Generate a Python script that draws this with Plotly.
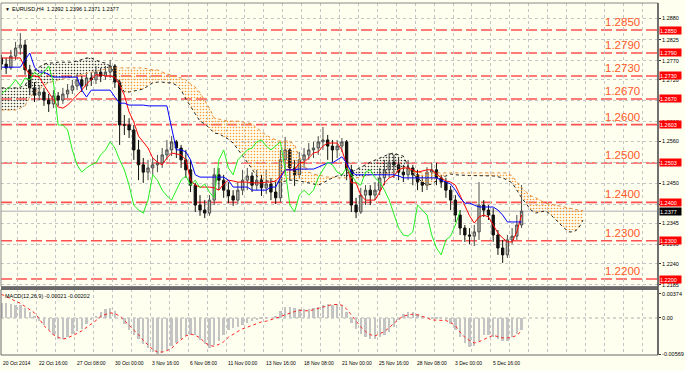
import numpy as np
import plotly.graph_objects as go

# ---------------- data (prices stored as pips above 1.2000) ----------------
BASE = 1.2
open_p = [777, 761, 751, 782, 803, 811, 746, 699, 680, 688,
          667, 657, 678, 667, 683, 693, 704, 720, 704, 725,
          720, 740, 730, 740, 756, 714, 602, 602, 589, 537,
          498, 479, 490, 498, 503, 524, 537, 558, 542, 511,
          485, 445, 393, 380, 372, 406, 472, 458, 432, 417,
          406, 432, 458, 469, 445, 458, 438, 448, 427, 412,
          511, 537, 490, 472, 511, 524, 537, 542, 558, 563,
          547, 537, 547, 558, 485, 393, 375, 419, 432, 419,
          432, 464, 485, 505, 498, 479, 472, 490, 472, 453,
          445, 479, 485, 464, 453, 432, 406, 367, 333, 315,
          312, 323, 393, 380, 367, 315, 281, 263, 302, 312, 341]
high_p = [785, 777, 798, 819, 842, 824, 759, 714, 706, 699,
          683, 693, 688, 699, 709, 720, 735, 730, 740, 740,
          756, 751, 756, 772, 761, 722, 628, 620, 602, 563,
          516, 511, 516, 524, 542, 563, 573, 563, 550, 537,
          511, 451, 419, 406, 419, 490, 490, 472, 453, 432,
          453, 485, 490, 479, 485, 472, 485, 464, 458, 537,
          571, 542, 511, 532, 542, 555, 558, 573, 597, 576,
          563, 563, 568, 563, 498, 412, 438, 445, 445, 453,
          490, 511, 529, 524, 516, 498, 511, 498, 485, 472,
          492, 503, 503, 472, 464, 443, 419, 380, 341, 333,
          341, 453, 406, 393, 385, 328, 302, 315, 333, 367, 445]
low_p = [746, 735, 746, 772, 785, 733, 680, 662, 667, 652,
         636, 646, 652, 657, 673, 683, 693, 688, 693, 704,
         709, 714, 720, 725, 699, 550, 576, 568, 511, 458,
         451, 458, 472, 479, 490, 511, 521, 516, 490, 464,
         427, 375, 365, 359, 365, 393, 432, 412, 398, 391,
         396, 419, 432, 427, 432, 417, 422, 406, 396, 401,
         472, 458, 443, 464, 490, 511, 516, 524, 537, 511,
         505, 516, 532, 458, 375, 359, 370, 393, 393, 406,
         419, 445, 464, 464, 458, 453, 458, 445, 432, 427,
         432, 458, 445, 438, 412, 380, 349, 315, 297, 291,
         286, 302, 362, 354, 297, 263, 242, 255, 291, 302, 333]
close_p = [761, 751, 782, 803, 811, 746, 699, 680, 688, 667,
           657, 678, 667, 683, 693, 704, 720, 704, 725, 720,
           740, 730, 740, 756, 714, 602, 602, 589, 537, 498,
           479, 490, 498, 503, 524, 537, 558, 542, 511, 485,
           445, 393, 380, 372, 406, 472, 458, 432, 417, 406,
           432, 458, 469, 445, 458, 438, 448, 427, 412, 511,
           537, 490, 472, 511, 524, 537, 542, 558, 563, 547,
           537, 547, 558, 485, 393, 375, 419, 432, 419, 432,
           464, 485, 505, 498, 479, 472, 490, 472, 453, 445,
           479, 485, 464, 453, 432, 406, 367, 333, 315, 312,
           323, 393, 380, 367, 315, 281, 263, 302, 312, 341, 377]
tenkan_p = [777, 777, 777, 777, 777, 751, 733, 730, 727, 706,
            686, 667, 649, 646, 654, 667, 680, 693, 709, 720,
            733, 733, 730, 730, 727, 706, 680, 636, 610, 573,
            558, 542, 516, 505, 498, 516, 529, 526, 524, 511,
            458, 445, 440, 440, 440, 438, 432, 448, 458, 456,
            453, 453, 453, 451, 451, 451, 453, 453, 456, 469,
            485, 485, 485, 503, 505, 516, 529, 532, 547, 555,
            555, 555, 537, 498, 451, 451, 419, 406, 406, 406,
            427, 451, 464, 469, 485, 490, 490, 485, 479, 482,
            485, 485, 474, 464, 456, 453, 445, 419, 393, 365,
            346, 362, 367, 362, 341, 320, 307, 297, 297, 323, 367]
kijun_p = [753, 753, 753, 753, 753, 772, 790, 753, 740, 740,
           733, 727, 727, 727, 727, 727, 727, 693, 675, 693,
           693, 693, 693, 693, 675, 659, 659, 654, 654, 654,
           654, 652, 652, 652, 652, 652, 594, 537, 537, 532,
           511, 472, 466, 466, 466, 466, 466, 466, 458, 440,
           440, 440, 440, 432, 432, 432, 432, 440, 440, 464,
           485, 485, 485, 487, 487, 487, 487, 492, 498, 503,
           503, 511, 519, 503, 479, 472, 472, 472, 472, 472,
           472, 472, 472, 472, 469, 464, 464, 464, 464, 464,
           464, 464, 464, 458, 453, 448, 432, 412, 398, 398,
           393, 388, 388, 388, 388, 380, 367, 349, 349, 349, 349]
span_a_p = [699, 699, 699, 699, 701, 704, 733, 746, 753, 761,
            764, 764, 766, 766, 766, 766, 769, 772, 777, 777,
            772, 766, 764, 756, 735, 712, 688, 688, 691, 693,
            696, 704, 712, 714, 714, 712, 712, 706, 693, 670,
            649, 631, 612, 605, 594, 581, 579, 573, 565, 555,
            539, 524, 505, 487, 469, 458, 456, 456, 453, 453,
            456, 458, 458, 456, 453, 451, 448, 445, 451, 458,
            464, 469, 474, 477, 479, 485, 490, 498, 505, 511,
            516, 521, 526, 529, 524, 521, 495, 474, 464, 453,
            445, 448, 456, 464, 469, 474, 472, 471, 470, 470,
            470, 470, 470, 470, 469, 467, 464, 458, 451, 432,
            412, 396, 380, 372, 375, 378, 370, 357, 346, 333,
            323, 323, 331, 354]
span_b_p = [641, 641, 641, 641, 646, 652, 675, 686, 696, 706,
            712, 717, 720, 722, 725, 727, 730, 735, 738, 740,
            743, 746, 748, 751, 751, 751, 751, 751, 751, 751,
            751, 748, 746, 746, 740, 735, 733, 727, 725, 720,
            709, 701, 686, 667, 646, 620, 618, 615, 612, 612,
            612, 610, 607, 605, 594, 584, 576, 568, 563, 560,
            560, 560, 550, 519, 498, 479, 474, 472, 469, 466,
            466, 464, 464, 464, 464, 464, 466, 469, 472, 472,
            474, 474, 477, 477, 485, 490, 485, 482, 479, 477,
            477, 477, 477, 477, 477, 477, 477, 477, 477, 477,
            477, 477, 477, 477, 477, 477, 477, 477, 469, 453,
            438, 427, 417, 412, 406, 398, 396, 393, 391, 388,
            385, 383, 380, 378]
macd_hist = [0.0022, 0.0022, 0.0021, 0.0020, 0.0019, 0.0015, 0.0008, 0.0002, -0.0005, -0.0012,
             -0.0020, -0.0027, -0.0033, -0.0033, -0.0030, -0.0025, -0.0021, -0.0018, -0.0010, -0.0004,
             0.0002, 0.0009, 0.0013, 0.0015, 0.0010, 0.0000, -0.0010, -0.0019, -0.0027, -0.0034,
             -0.0041, -0.0047, -0.0053, -0.0057, -0.0056, -0.0050, -0.0045, -0.0040, -0.0033, -0.0029,
             -0.0027, -0.0028, -0.0035, -0.0042, -0.0047, -0.0043, -0.0036, -0.0028, -0.0020, -0.0017,
             -0.0015, -0.0012, -0.0009, -0.0006, -0.0004, -0.0002, -0.0001, 0.0000, 0.0002, 0.0010,
             0.0017, 0.0017, 0.0015, 0.0014, 0.0013, 0.0014, 0.0015, 0.0017, 0.0020, 0.0021,
             0.0020, 0.0021, 0.0020, 0.0008, -0.0008, -0.0018, -0.0026, -0.0031, -0.0034, -0.0033,
             -0.0030, -0.0027, -0.0022, -0.0015, -0.0004, 0.0006, 0.0008, 0.0008, 0.0006, 0.0003,
             0.0000, -0.0002, -0.0003, -0.0003, -0.0004, -0.0010, -0.0020, -0.0030, -0.0040, -0.0046,
             -0.0045, -0.0036, -0.0028, -0.0027, -0.0031, -0.0034, -0.0037, -0.0036, -0.0030, -0.0025, -0.0020]
macd_signal = [0.0037, 0.0034, 0.0030, 0.0026, 0.0023, 0.0018, 0.0013, 0.0008, -0.0001, -0.0012,
               -0.0019, -0.0026, -0.0030, -0.0033, -0.0031, -0.0028, -0.0024, -0.0020, -0.0015, -0.0009,
               -0.0004, 0.0003, 0.0006, 0.0008, 0.0007, 0.0003, -0.0004, -0.0011, -0.0018, -0.0026,
               -0.0035, -0.0042, -0.0049, -0.0053, -0.0053, -0.0051, -0.0047, -0.0040, -0.0034, -0.0028,
               -0.0025, -0.0027, -0.0031, -0.0038, -0.0043, -0.0044, -0.0041, -0.0037, -0.0030, -0.0025,
               -0.0021, -0.0017, -0.0014, -0.0011, -0.0008, -0.0006, -0.0005, -0.0003, -0.0001, 0.0002,
               0.0005, 0.0008, 0.0010, 0.0012, 0.0012, 0.0011, 0.0013, 0.0015, 0.0018, 0.0020,
               0.0021, 0.0021, 0.0020, 0.0014, 0.0005, -0.0004, -0.0014, -0.0021, -0.0026, -0.0028,
               -0.0025, -0.0021, -0.0015, -0.0008, -0.0002, 0.0003, 0.0005, 0.0006, 0.0005, 0.0003,
               0.0000, -0.0003, -0.0003, -0.0003, -0.0004, -0.0007, -0.0012, -0.0022, -0.0030, -0.0035,
               -0.0039, -0.0037, -0.0033, -0.0030, -0.0027, -0.0029, -0.0031, -0.0031, -0.0030, -0.0027, -0.0020]

levels = [1.2850, 1.2790, 1.2730, 1.2670, 1.2603, 1.2503, 1.2400, 1.2300, 1.2200]
level_text = ["1.2850", "1.2790", "1.2730", "1.2670", "1.2600", "1.2500", "1.2400", "1.2300", "1.2200"]
level_box = ["1.2850", "1.2790", "1.2730", "1.2670", "1.2603", "1.2503", "1.2400", "1.2300", "1.2200"]
last_price = 1.2377
price_ticks = [1.2880, 1.2825, 1.2770, 1.2720, 1.2665, 1.2610, 1.2560, 1.2505,
               1.2450, 1.2395, 1.2345, 1.2290, 1.2240, 1.2185]
# labels that sit fully under a level box are not visible in the reference
price_tick_text = ["1.2880", "1.2825", "1.2770", "1.2720", "", "1.2610", "1.2560", "",
                   "1.2450", "", "1.2345", "1.2290", "1.2240", "1.2185"]
macd_ticks = [0.00374, 0.0, -0.00569]
macd_tick_text = ["0.00374", "0.00", "-0.00569"]
date_pos = [0, 15, 31, 47, 63, 79, 95, 111, 127, 143, 159, 175, 191, 207]
date_labels = ["20 Oct 2014", "22 Oct 16:00", "27 Oct 08:00", "30 Oct 00:00", "3 Nov 16:00",
               "6 Nov 08:00", "11 Nov 00:00", "13 Nov 16:00", "18 Nov 08:00", "21 Nov 00:00",
               "25 Nov 16:00", "28 Nov 08:00", "3 Dec 00:00", "5 Dec 16:00"]
title_text = "EURUSD,H4  1.2392 1.2396 1.2371 1.2377"
macd_title = "MACD(12,26,9) -0.00021 -0.00202"

for arr in (open_p, high_p, low_p, close_p, tenkan_p, kijun_p, macd_hist, macd_signal):
    assert len(arr) == 111, len(arr)
assert len(span_a_p) == len(span_b_p) == 124

# ---------------- styling constants ----------------
BAR = 2            # one candle = two H4 slots on the time axis
CHIKOU_SHIFT = 26  # H4 slots
BG = "#FFFFF0"
GRID = "#C4C4C4"
FONT = "Liberation Sans"
X_RANGE = [-0.17, 277.7]
Y_RANGE = [1.218047, 1.292048]
M_RANGE = [-0.005766, 0.004441]
MAIN_BOTTOM = 0.1946
MACD_TOP = 0.1861
LABEL_X = 262.6


def px(lst):
    return [BASE + v / 10000.0 for v in lst]


xc = [BAR * i for i in range(len(close_p))]
xs = [BAR * i for i in range(len(span_a_p))]
A = px(span_a_p)
B = px(span_b_p)

fig = go.Figure()


def cloud_segments(x, a, b):
    segs = []
    sx, sa, sb = [x[0]], [a[0]], [b[0]]
    sign = a[0] >= b[0]
    for k in range(1, len(x)):
        s = a[k] >= b[k]
        if s != sign:
            d0 = a[k - 1] - b[k - 1]
            d1 = a[k] - b[k]
            t = d0 / (d0 - d1)
            xcr = x[k - 1] + t * (x[k] - x[k - 1])
            ycr = a[k - 1] + t * (a[k] - a[k - 1])
            sx.append(xcr); sa.append(ycr); sb.append(ycr)
            segs.append((sign, sx, sa, sb))
            sx, sa, sb = [xcr], [ycr], [ycr]
            sign = s
        sx.append(x[k]); sa.append(a[k]); sb.append(b[k])
    segs.append((sign, sx, sa, sb))
    return segs


for sign, sx, sa, sb in cloud_segments(xs, A, B):
    col = "#3a3a3a" if sign else "#FF9A30"
    fig.add_trace(go.Scatter(
        x=sx + sx[::-1], y=sa + sb[::-1], mode="lines", fill="toself",
        line=dict(width=0, color="rgba(0,0,0,0)"), fillcolor="rgba(0,0,0,0)",
        fillpattern=dict(shape=".", fgcolor=col, bgcolor="rgba(0,0,0,0)",
                         size=3, solidity=0.22, fillmode="replace"),
        hoverinfo="skip", showlegend=False, xaxis="x", yaxis="y"))

# candles
fig.add_trace(go.Candlestick(
    x=xc, open=px(open_p), high=px(high_p), low=px(low_p), close=px(close_p),
    increasing=dict(line=dict(color="#4c4c4c", width=1), fillcolor="#b8b8ac"),
    decreasing=dict(line=dict(color="#111111", width=1), fillcolor="#111111"),
    whiskerwidth=0, hoverinfo="skip", showlegend=False, xaxis="x", yaxis="y"))

# cloud bounding lines
fig.add_trace(go.Scatter(x=xs, y=A, mode="lines", line=dict(color="#222222", width=1, dash="dot"),
                         hoverinfo="skip", showlegend=False))
fig.add_trace(go.Scatter(x=xs, y=B, mode="lines", line=dict(color="#E08A3C", width=1, dash="dot"),
                         hoverinfo="skip", showlegend=False))
# tenkan, kijun, chikou
fig.add_trace(go.Scatter(x=xc, y=px(tenkan_p), mode="lines", line=dict(color="#FF0000", width=1),
                         hoverinfo="skip", showlegend=False))
fig.add_trace(go.Scatter(x=xc, y=px(kijun_p), mode="lines", line=dict(color="#0000FF", width=1),
                         hoverinfo="skip", showlegend=False))
shift_idx = CHIKOU_SHIFT // BAR
fig.add_trace(go.Scatter(x=[BAR * i - CHIKOU_SHIFT for i in range(shift_idx, len(close_p))],
                         y=px(close_p)[shift_idx:], mode="lines",
                         line=dict(color="#22EE22", width=1),
                         hoverinfo="skip", showlegend=False))

# MACD panel
fig.add_trace(go.Bar(x=xc, y=macd_hist, width=1.0, marker=dict(color="#C4C4C4", line=dict(width=0)),
                     hoverinfo="skip", showlegend=False, xaxis="x2", yaxis="y2"))
fig.add_trace(go.Scatter(x=xc, y=macd_signal, mode="lines",
                         line=dict(color="#FF2020", width=1, dash="dot"),
                         hoverinfo="skip", showlegend=False, xaxis="x2", yaxis="y2"))

grid_pos = list(range(7, 278, 8))
axis_common = dict(range=X_RANGE, tickvals=grid_pos, showticklabels=False, showgrid=True,
                   gridcolor=GRID, griddash="dot", gridwidth=1, zeroline=False, ticks="",
                   showline=False, fixedrange=True)

shapes = []
for lv in levels:
    shapes.append(dict(type="line", xref="paper", x0=0, x1=1, yref="y", y0=lv, y1=lv,
                       line=dict(color="#FF5050", width=1.6, dash="11px,4px"), layer="below"))
shapes.append(dict(type="line", xref="paper", x0=0, x1=1, yref="y", y0=last_price, y1=last_price,
                   line=dict(color="#C8C8C8", width=1.5), layer="below"))
shapes.append(dict(type="line", xref="paper", x0=0, x1=1, yref="y2", y0=0, y1=0,
                   line=dict(color="#B0B0B0", width=1, dash="dot"), layer="below"))
shapes.append(dict(type="rect", xref="paper", yref="paper", x0=0, x1=1, y0=MAIN_BOTTOM, y1=1,
                   line=dict(color="#8a8a8a", width=1)))
shapes.append(dict(type="rect", xref="paper", yref="paper", x0=0, x1=1, y0=0, y1=MACD_TOP,
                   line=dict(color="#6a6a6a", width=1)))
shapes.append(dict(type="rect", xref="paper", yref="paper", x0=0, x1=1, y0=MACD_TOP, y1=MAIN_BOTTOM,
                   line=dict(width=0), fillcolor="#6a6a6a"))
shapes.append(dict(type="line", xref="paper", yref="paper", x0=1, x1=1, y0=0, y1=1,
                   line=dict(color="#555555", width=1.5)))

ann = []
for lv, t in zip(levels, level_text):
    ann.append(dict(xref="x", x=LABEL_X, yref="y", y=lv, yshift=8, text=t, showarrow=False,
                    font=dict(family=FONT, size=11.5, color="#FF5A28")))
for lv, t in zip(levels, level_box):
    ann.append(dict(xref="paper", x=1, xanchor="left", xshift=1, yref="y", y=lv, text=t,
                    showarrow=False, bgcolor="#FF0000", font=dict(family=FONT, size=5.5, color="white"),
                    width=21, height=7, borderpad=0, align="left"))
ann.append(dict(xref="paper", x=1, xanchor="left", xshift=1, yref="y", y=last_price, text="1.2377",
                showarrow=False, bgcolor="#000000", font=dict(family=FONT, size=5.5, color="white"),
                width=21, height=7, borderpad=0, align="left"))
for p, t in zip(date_pos, date_labels):
    ann.append(dict(xref="x2", x=p, xanchor="left", yref="paper", y=0, yanchor="top", yshift=-3,
                    text=t, showarrow=False, font=dict(family=FONT, size=5, color="black")))
ann.append(dict(xref="paper", x=0, xanchor="left", xshift=2, yref="paper", y=1, yanchor="top", yshift=-1,
                text="\u25BC", showarrow=False, font=dict(family=FONT, size=5, color="black")))
ann.append(dict(xref="paper", x=0, xanchor="left", xshift=9, yref="paper", y=1, yanchor="top", yshift=-1,
                text=title_text, showarrow=False, font=dict(family=FONT, size=5.5, color="black")))
ann.append(dict(xref="paper", x=0, xanchor="left", xshift=2, yref="paper", y=MACD_TOP, yanchor="top",
                yshift=-2, text=macd_title, showarrow=False, font=dict(family=FONT, size=5.5, color="black")))

fig.update_layout(
    width=685, height=371, margin=dict(l=1, r=24, t=3, b=16),
    paper_bgcolor=BG, plot_bgcolor=BG, showlegend=False, bargap=0,
    xaxis=dict(domain=[0, 1], anchor="y", rangeslider=dict(visible=False), **axis_common),
    xaxis2=dict(domain=[0, 1], anchor="y2", matches="x", **axis_common),
    yaxis=dict(domain=[MAIN_BOTTOM, 1], range=Y_RANGE, side="right", tickvals=price_ticks,
               ticktext=price_tick_text, showgrid=True, gridcolor=GRID,
               griddash="dot", zeroline=False, ticks="outside", ticklen=2, tickcolor="#333333",
               tickfont=dict(family=FONT, size=5.5, color="black"), fixedrange=True),
    yaxis2=dict(domain=[0, MACD_TOP], range=M_RANGE, side="right", tickvals=macd_ticks,
                ticktext=macd_tick_text, showgrid=False, zeroline=False, ticks="outside", ticklen=2,
                tickcolor="#333333", tickfont=dict(family=FONT, size=5.5, color="black"),
                fixedrange=True),
    shapes=shapes, annotations=ann,
)

fig.write_html("out.html", config={"displayModeBar": False},
               post_script="document.body.style.margin='0';document.body.style.padding='0';"
                           "document.body.style.background='" + BG + "';")
